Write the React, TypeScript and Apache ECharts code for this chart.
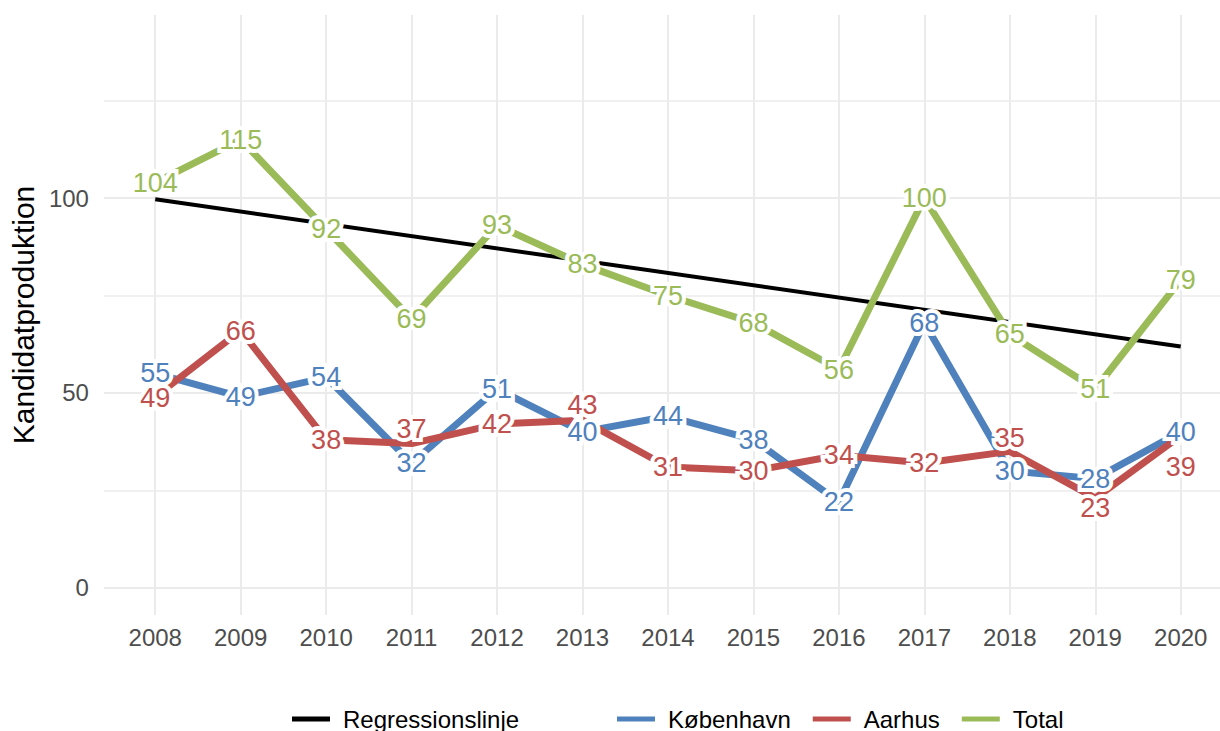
import React, { useEffect, useRef } from "react";
import * as echarts from "echarts";

const years = [2008, 2009, 2010, 2011, 2012, 2013, 2014, 2015, 2016, 2017, 2018, 2019, 2020];
const kobenhavn = [55, 49, 54, 32, 51, 40, 44, 38, 22, 68, 30, 28, 40];
const aarhus = [49, 66, 38, 37, 42, 43, 31, 30, 34, 32, 35, 23, 39];
const total = [104, 115, 92, 69, 93, 83, 75, 68, 56, 100, 65, 51, 79];
const regressionYears = [2008, 2020];
const regressionValues = [99.7, 61.9];
const yLabelValues = [0, 50, 100];
const yGridValues = [0, 25, 50, 75, 100, 125];
// label nudges (px) for repelled Aarhus labels
const aarhusLabelNudge = [1, 0, 0, -15, 0, -15, 0, 0, 0, 0, -13, 10, 31];

const BLUE = "#4F81BD";
const RED = "#C0504D";
const GREEN = "#9BBB59";
const FONT = "Liberation Sans, Arial, sans-serif";

function lineSeries(name: string, values: number[], color: string) {
  return {
    name,
    type: "line",
    color,
    z: 3,
    silent: true,
    symbol: "none",
    showSymbol: false,
    lineStyle: { color, width: 7, cap: "butt", join: "round" },
    itemStyle: { color },
    emphasis: { disabled: true },
    data: values.map((v, i) => [years[i], v]),
  };
}

function labelSeries(name: string, values: number[], color: string, nudge?: number[]) {
  return {
    name: name + "-labels",
    type: "scatter",
    z: 10,
    silent: true,
    symbol: "circle",
    symbolSize: 0,
    itemStyle: { color: "rgba(0,0,0,0)", opacity: 1 },
    label: {
      show: true,
      position: "inside",
      fontFamily: FONT,
      fontSize: 27,
      color,
      opacity: 1,
      textBorderColor: "#ffffff",
      textBorderWidth: 8,
      formatter: (p: any) => String(p.value[1]),
    },
    emphasis: { disabled: true },
    data: values.map((v, i) => ({
      value: [years[i], v],
      label: nudge ? { offset: [0, nudge[i]] } : undefined,
    })),
  };
}

export default function App() {
  const ref = useRef<HTMLDivElement>(null);

  useEffect(() => {
    document.body.style.margin = "0";
    document.body.style.overflow = "hidden";
    if (!ref.current) return;
    const chart = echarts.init(ref.current, undefined, { renderer: "svg" });
    chart.setOption({
      animation: false,
      backgroundColor: "#ffffff",
      grid: { left: 103, right: 0, top: 15, bottom: 116, containLabel: false },
      xAxis: {
        type: "value",
        min: 2007.4,
        max: 2020.6,
        axisLine: { show: false },
        axisTick: { show: false, customValues: years },
        axisLabel: {
          customValues: years,
          formatter: (v: number) => String(v),
          fontFamily: FONT,
          fontSize: 24,
          color: "#4D4D4D",
          margin: 10,
        },
        splitLine: { show: true, lineStyle: { color: "#EBEBEB", width: 2 } },
      },
      yAxis: {
        type: "value",
        min: -7,
        max: 147,
        name: "Kandidatproduktion",
        nameLocation: "middle",
        nameRotate: 90,
        nameGap: 65,
        nameTextStyle: { fontFamily: FONT, fontSize: 30, color: "#000000" },
        axisLine: { show: false },
        axisTick: { show: false, customValues: yGridValues },
        axisLabel: {
          customValues: yLabelValues,
          fontFamily: FONT,
          fontSize: 24,
          color: "#4D4D4D",
          margin: 15,
        },
        splitLine: { show: true, lineStyle: { color: ["#EBEBEB", "#F0F0F0"], width: 2 } },
      },
      legend: [
        {
          data: ["Regressionslinje"],
          left: 287,
          top: 702,
          icon: "rect",
          itemWidth: 38,
          itemHeight: 5,
          textStyle: { fontFamily: FONT, fontSize: 24, color: "#000000", padding: [0, 0, 0, 8] },
          selectedMode: false,
        },
        {
          data: ["København", "Aarhus", "Total"],
          left: 612,
          top: 702,
          icon: "rect",
          itemWidth: 38,
          itemHeight: 5,
          itemGap: 22,
          textStyle: { fontFamily: FONT, fontSize: 24, color: "#000000", padding: [0, 0, 0, 8] },
          selectedMode: false,
        },
      ],
      series: [
        {
          name: "Regressionslinje",
          type: "line",
          color: "#000000",
          z: 2,
          silent: true,
          symbol: "none",
          showSymbol: false,
          lineStyle: { color: "#000000", width: 4 },
          emphasis: { disabled: true },
          data: regressionYears.map((y, i) => [y, regressionValues[i]]),
        },
        lineSeries("København", kobenhavn, BLUE),
        lineSeries("Aarhus", aarhus, RED),
        lineSeries("Total", total, GREEN),
        labelSeries("København", kobenhavn, BLUE),
        labelSeries("Aarhus", aarhus, RED, aarhusLabelNudge),
        labelSeries("Total", total, GREEN),
      ],
    });
    return () => chart.dispose();
  }, []);

  return <div ref={ref} style={{ width: 1232, height: 731 }} />;
}
